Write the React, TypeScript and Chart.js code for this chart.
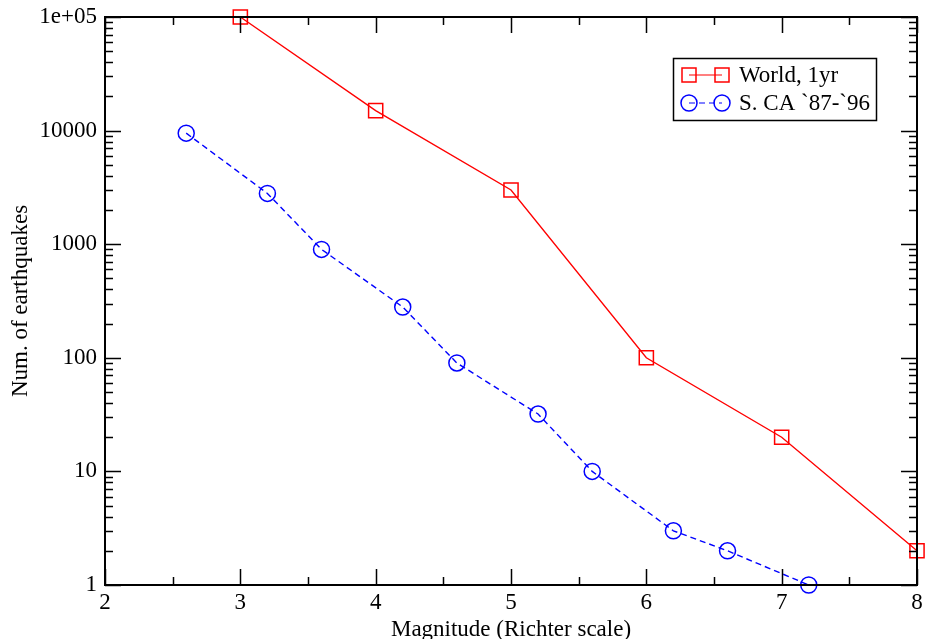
import React, { useEffect, useRef } from "react";
import { Chart, registerables } from "chart.js";

Chart.register(...registerables);

const worldMag = [3, 4, 5, 6, 7, 8];
const worldCount = [100000, 15000, 3000, 100, 20, 2];
const caMag = [2.6, 3.2, 3.6, 4.2, 4.6, 5.2, 5.6, 6.2, 6.6, 7.2];
const caCount = [9500, 2800, 900, 280, 90, 32, 10, 3, 2, 1];
const yDecades = [1, 10, 100, 1000, 10000, 100000];
const yLabels = ["1", "10", "100", "1000", "10000", "1e+05"];
const seriesLabels = ["World, 1yr", "S. CA `87-`96"];

const FONT = "'Liberation Serif', 'Times New Roman', serif";

const framePlugin = {
  id: "frameTicks",
  afterDraw(chart: any) {
    const { ctx, chartArea } = chart;
    const { left, right, top, bottom } = chartArea;
    const xs = chart.scales.x;
    const ys = chart.scales.y;
    ctx.save();
    ctx.strokeStyle = "#000";
    ctx.lineWidth = 1.5;
    // x ticks
    for (let v = 2; v <= 8.001; v += 0.5) {
      const px = Math.round(xs.getPixelForValue(v)) + 0.5;
      const major = Math.abs(v - Math.round(v)) < 1e-6;
      const len = major ? 16 : 8;
      ctx.beginPath();
      ctx.moveTo(px, bottom);
      ctx.lineTo(px, bottom - len);
      ctx.moveTo(px, top);
      ctx.lineTo(px, top + len);
      ctx.stroke();
    }
    // y ticks
    for (let d = 0; d < yDecades.length; d++) {
      const base = yDecades[d];
      for (let m = 1; m <= 9; m++) {
        const v = base * m;
        if (v > 100000) break;
        const py = Math.round(ys.getPixelForValue(v)) + 0.5;
        const len = m === 1 ? 16 : 8;
        ctx.beginPath();
        ctx.moveTo(left, py);
        ctx.lineTo(left + len, py);
        ctx.moveTo(right, py);
        ctx.lineTo(right - len, py);
        ctx.stroke();
      }
    }
    // frame
    ctx.lineWidth = 2;
    ctx.strokeRect(left, top, right - left, bottom - top);

    // legend
    const lx = 673, ly = 58, lw = 203, lh = 62;
    ctx.lineWidth = 1.5;
    ctx.strokeStyle = "#000";
    ctx.fillStyle = "#fff";
    ctx.fillRect(lx, ly, lw, lh);
    ctx.strokeRect(lx + 0.5, ly + 0.5, lw, lh);
    const rows = [75, 103];
    chart.data.datasets.forEach((ds: any, i: number) => {
      const cy = rows[i];
      const x1 = 689, x2 = 722;
      ctx.strokeStyle = ds.borderColor;
      ctx.lineWidth = 1.2;
      ctx.setLineDash(ds.borderDash || []);
      ctx.beginPath();
      ctx.moveTo(x1, cy);
      ctx.lineTo(x2, cy);
      ctx.stroke();
      ctx.setLineDash([]);
      ctx.lineWidth = 1.5;
      if (ds.pointStyle === "rect") {
        ctx.strokeRect(x1 - 7, cy - 7, 14, 14);
        ctx.strokeRect(x2 - 7, cy - 7, 14, 14);
      } else {
        ctx.beginPath();
        ctx.arc(x1, cy, 8, 0, Math.PI * 2);
        ctx.stroke();
        ctx.beginPath();
        ctx.arc(x2, cy, 8, 0, Math.PI * 2);
        ctx.stroke();
      }
      ctx.fillStyle = "#000";
      ctx.font = `23px ${FONT}`;
      ctx.textBaseline = "middle";
      ctx.textAlign = "left";
      ctx.fillText(ds.label, 739, cy + 1);
    });
    ctx.restore();
  },
};

export default function App() {
  const ref = useRef<HTMLCanvasElement>(null);
  useEffect(() => {
    document.body.style.margin = "0";
    const canvas = ref.current!;
    const chart = new Chart(canvas, {
      type: "line",
      data: {
        datasets: [
          {
            label: seriesLabels[0],
            data: worldMag.map((m, i) => ({ x: m, y: worldCount[i] })),
            borderColor: "#ff0000",
            backgroundColor: "transparent",
            borderWidth: 1.4,
            pointStyle: "rect",
            pointRadius: 10,
            pointBorderWidth: 1.5,
            pointBorderColor: "#ff0000",
            pointBackgroundColor: "transparent",
            clip: false as any,
          },
          {
            label: seriesLabels[1],
            data: caMag.map((m, i) => ({ x: m, y: caCount[i] })),
            borderColor: "#0000ff",
            backgroundColor: "transparent",
            borderWidth: 1.4,
            borderDash: [6, 4],
            pointStyle: "circle",
            pointRadius: 8,
            pointBorderWidth: 1.5,
            pointBorderColor: "#0000ff",
            pointBackgroundColor: "transparent",
            clip: false as any,
          },
        ],
      },
      options: {
        animation: false,
        responsive: false,
        maintainAspectRatio: false,
        layout: { autoPadding: false, padding: { left: 0, right: 8, top: 17, bottom: 0 } },
        plugins: { legend: { display: false }, tooltip: { enabled: false } },
        scales: {
          x: {
            type: "linear",
            min: 2,
            max: 8,
            grid: { display: false, drawTicks: false },
            border: { display: false },
            ticks: { stepSize: 1, padding: 4, color: "#000", font: { family: FONT, size: 23 } },
            title: {
              display: true,
              text: "Magnitude (Richter scale)",
              color: "#000",
              font: { family: FONT, size: 23, lineHeight: 1 },
              padding: { top: 0, bottom: -2 },
            },
            afterFit: (s: any) => {
              s.height = 54;
              s.paddingLeft = 0;
              s.paddingRight = 0;
            },
          },
          y: {
            type: "logarithmic",
            min: 1,
            max: 100000,
            grid: { display: false, drawTicks: false },
            border: { display: false },
            afterBuildTicks: (s: any) => {
              s.ticks = yDecades.map((v) => ({ value: v }));
            },
            ticks: {
              autoSkip: false,
              padding: 8,
              color: "#000",
              font: { family: FONT, size: 23 },
              callback: (v: any) => {
                const i = yDecades.indexOf(Number(v));
                return i >= 0 ? yLabels[i] : "";
              },
            },
            title: {
              display: true,
              text: "Num. of earthquakes",
              color: "#000",
              font: { family: FONT, size: 23 },
              padding: { top: 7, bottom: 0 },
            },
            afterFit: (s: any) => {
              s.width = 105;
              s.paddingTop = 0;
              s.paddingBottom = 0;
            },
          },
        },
      },
      plugins: [framePlugin],
    });
    return () => chart.destroy();
  }, []);
  return (
    <div style={{ position: "absolute", left: 0, top: 0, width: 925, height: 639, background: "#fff" }}>
      <canvas ref={ref} width={925} height={639} />
    </div>
  );
}
